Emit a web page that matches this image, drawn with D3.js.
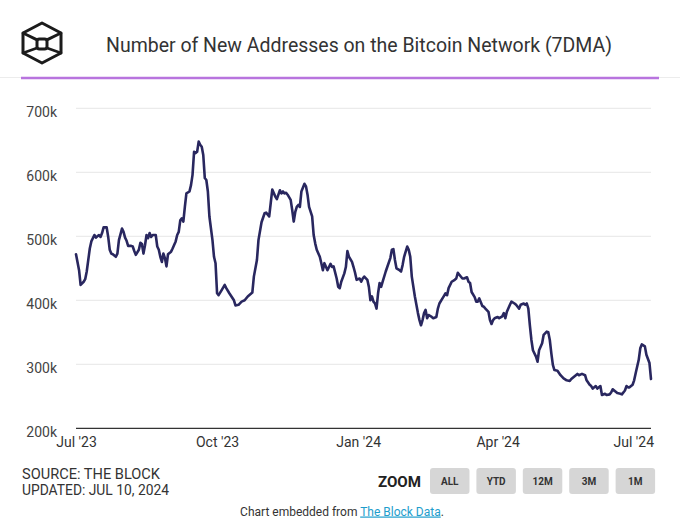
<!DOCTYPE html>
<html>
<head>
<meta charset="utf-8">
<script src="https://cdn.jsdelivr.net/npm/d3@7"></script>
<style>
  html, body { margin: 0; padding: 0; background: #fff; }
  svg { display: block; font-family: Roboto, "Noto Sans", sans-serif; }
</style>
</head>
<body>
<svg id="chart" width="680" height="532"></svg>
<script>
// ---------------- DATA ----------------
const title = "Number of New Addresses on the Bitcoin Network (7DMA)";
const startDate = "2023-07-01";           // day 0 of the series
const endDate = "2024-07-10";
// day offsets from startDate
const dayOffsets = [0,2,3,5,6,7,9,10,12,13,15,16,17,18,20,21,22,23,24,26,27,28,30,31,32,33,34,36,37,38,39,41,42,43,44,45,46,47,48,49,50,52,53,54,55,56,57,58,59,60,62,63,65,66,67,68,69,70,71,72,74,75,76,77,78,79,80,81,82,83,84,85,86,87,89,90,91,92,93,95,97,98,100,103,104,106,108,110,112,115,116,118,119,121,123,124,126,127,128,130,131,132,133,134,135,136,137,138,140,141,142,143,144,145,146,147,149,150,151,152,154,155,156,157,159,160,161,162,164,165,166,167,168,170,171,172,173,175,176,177,178,180,181,182,183,185,186,187,188,190,191,192,193,194,195,196,197,198,199,200,202,203,205,206,207,208,209,211,212,213,214,216,217,218,219,221,222,223,224,225,226,227,228,229,230,232,233,235,236,237,239,240,241,242,243,245,247,248,249,250,252,253,255,256,257,258,260,261,262,263,265,266,267,269,270,271,272,273,275,276,278,279,280,281,283,284,286,287,289,290,292,293,294,295,296,297,298,300,301,302,304,305,307,308,309,310,311,312,314,316,318,320,322,323,325,327,328,330,332,333,335,336,337,339,340,342,343,345,346,348,349,350,352,353,355,356,358,359,360,361,363,364,365,367,368,369,371,372,374,375];
// new addresses (thousands), 7-day moving average
const newAddressesK = [472,447,424,429,433,445,481,492,502,498,502,499,505,514,514,499,479,473,472,468,473,494,512,507,498,493,485,485,484,477,471,479,490,488,473,486,502,497,505,499,502,502,484,479,468,460,473,466,453,472,476,481,492,502,507,525,528,523,546,567,570,580,596,632,630,632,648,643,640,627,591,588,570,531,494,468,458,411,408,416,424,419,411,400,392,393,398,400,406,412,437,463,494,522,536,537,531,552,573,562,558,565,572,567,570,567,568,565,557,541,523,538,546,549,546,570,582,578,565,546,531,502,489,479,468,458,447,458,447,452,457,452,453,434,421,419,429,442,452,477,468,460,452,443,432,434,429,434,437,432,421,400,406,398,395,387,411,427,421,429,445,452,466,479,480,463,450,447,445,455,468,484,479,468,437,406,393,380,369,361,369,380,385,372,377,374,372,374,387,395,403,407,411,408,419,429,432,434,443,440,434,434,436,429,427,413,405,398,398,403,391,390,387,382,369,363,369,372,374,372,375,380,372,382,393,398,395,393,387,393,395,393,395,387,361,338,322,312,304,322,333,346,351,350,338,317,299,291,290,283,278,275,274,277,281,285,283,285,283,275,268,266,262,266,262,266,252,254,252,253,256,261,257,255,254,253,259,266,264,264,268,275,286,307,325,331,328,315,302,277];
const yTicks = [200000, 300000, 400000, 500000, 600000, 700000];
const xTickDates = ["2023-07-01", "2023-10-01", "2024-01-01", "2024-04-01", "2024-07-01"];
const sourceLines = ["SOURCE: THE BLOCK", "UPDATED: JUL 10, 2024"];
const zoomButtons = ["ALL", "YTD", "12M", "3M", "1M"];

// ---------------- SETUP ----------------
const svg = d3.select("#chart");
const parse = d3.timeParse("%Y-%m-%d");
const t0 = parse(startDate);
const data = dayOffsets.map((d, i) => ({
  date: d3.timeDay.offset(t0, d),
  value: newAddressesK[i] * 1000
}));

const plot = { left: 76, right: 651, top: 108.3, bottom: 428.3 };
const x = d3.scaleTime().domain([t0, parse(endDate)]).range([plot.left, plot.right]);
const y = d3.scaleLinear().domain([200000, 700000]).range([plot.bottom, plot.top]);

svg.append("rect").attr("width", 680).attr("height", 532).attr("fill", "#fff");

// ---------------- HEADER ----------------
const logo = svg.append("g").attr("fill", "none").attr("stroke", "#1b1b1b")
  .attr("stroke-width", 3).attr("stroke-linejoin", "round").attr("stroke-linecap", "round");
const cx = 42, cy = 43;
logo.append("path").attr("d",
  `M${cx},${cy-20} L${cx+19},${cy-10} L${cx+19},${cy+10} L${cx},${cy+20} L${cx-19},${cy+10} L${cx-19},${cy-10} Z`);
logo.append("path").attr("d",
  `M${cx-19},${cy-10} L${cx-5},${cy-3} M${cx+19},${cy-10} L${cx+5},${cy-3} M${cx-5},${cy+5} L${cx-19},${cy+10} M${cx+5},${cy+5} L${cx+19},${cy+10} M${cx-19},${cy-10} L${cx},${cy-1} L${cx+19},${cy-10}`)
  .attr("stroke-width", 2.6);
logo.append("rect").attr("x", cx-5).attr("y", cy-4).attr("width", 10).attr("height", 10).attr("rx", 2.5)
  .attr("fill", "#fff");

svg.append("text")
  .attr("x", 106).attr("y", 52)
  .attr("font-size", 20.5).attr("fill", "#333")
  .attr("textLength", 506).attr("lengthAdjust", "spacingAndGlyphs")
  .text(title);

svg.append("line").attr("x1", 0).attr("x2", 680).attr("y1", 77.5).attr("y2", 77.5)
  .attr("stroke", "#ececec").attr("stroke-width", 1);
svg.append("line").attr("x1", 21).attr("x2", 659).attr("y1", 78).attr("y2", 78)
  .attr("stroke", "#b874de").attr("stroke-width", 2.5);

// ---------------- GRID & AXES ----------------
svg.append("g").selectAll("line").data(yTicks.filter(v => v > 200000)).join("line")
  .attr("x1", plot.left).attr("x2", plot.right)
  .attr("y1", d => y(d)).attr("y2", d => y(d))
  .attr("stroke", "#e6e6e6").attr("stroke-width", 1);

const yAxis = svg.append("g")
  .attr("transform", `translate(${plot.left - 19},0)`)
  .call(d3.axisLeft(y).tickValues(yTicks).tickSize(0).tickPadding(0)
    .tickFormat(d => (d / 1000) + "k"));
yAxis.select(".domain").remove();
yAxis.selectAll("text").attr("font-size", 14).attr("fill", "#444")
  .attr("font-family", "Roboto, sans-serif").attr("dy", "0.6em");

svg.append("line").attr("x1", plot.left).attr("x2", plot.right)
  .attr("y1", plot.bottom).attr("y2", plot.bottom)
  .attr("stroke", "#333").attr("stroke-width", 1.2);

const fmt = d3.timeFormat("%b '%y");
const xAxis = svg.append("g")
  .attr("transform", `translate(0,${plot.bottom})`)
  .call(d3.axisBottom(x).tickValues(xTickDates.map(parse)).tickSize(0).tickPadding(0)
    .tickFormat(fmt));
xAxis.select(".domain").remove();
xAxis.selectAll("text").attr("font-size", 14).attr("fill", "#333")
  .attr("font-family", "Roboto, sans-serif").attr("dy", "1.35em");
// keep the last label inside the chart (justify)
xAxis.selectAll(".tick").each(function () {
  const txt = d3.select(this).select("text");
  const w = txt.node().getComputedTextLength();
  const tr = d3.select(this).attr("transform");
  const tx = +tr.match(/translate\(([-\d.]+)/)[1];
  const maxRight = 654;
  if (tx + w / 2 > maxRight) txt.attr("x", maxRight - w / 2 - tx);
});

// ---------------- LINE ----------------
const line = d3.line().x(d => x(d.date)).y(d => y(d.value));
svg.append("path").datum(data)
  .attr("d", line).attr("fill", "none")
  .attr("stroke", "#29275f").attr("stroke-width", 2.6)
  .attr("stroke-linejoin", "round").attr("stroke-linecap", "round");

// ---------------- FOOTER ----------------
const srcWidths = [138, 147];
sourceLines.forEach((s, i) => {
  svg.append("text").attr("x", 22).attr("y", 478.5 + i * 16.5)
    .attr("font-size", 14.5).attr("fill", "#333")
    .attr("textLength", srcWidths[i]).attr("lengthAdjust", "spacingAndGlyphs")
    .text(s);
});

svg.append("text").attr("x", 421).attr("y", 486.5).attr("text-anchor", "end")
  .attr("font-size", 14.5).attr("font-weight", "bold").attr("fill", "#222")
  .attr("textLength", 43).attr("lengthAdjust", "spacingAndGlyphs")
  .text("ZOOM");

const bx = d3.scaleBand().domain(zoomButtons).range([430, 655.1]).paddingInner(0.149).paddingOuter(0);
const btn = svg.append("g").selectAll("g").data(zoomButtons).join("g");
btn.append("rect")
  .attr("x", d => bx(d)).attr("y", 468).attr("width", bx.bandwidth()).attr("height", 26)
  .attr("rx", 3).attr("fill", "#d6d6d6");
btn.append("text")
  .attr("x", d => bx(d) + bx.bandwidth() / 2).attr("y", 485)
  .attr("text-anchor", "middle").attr("font-size", 10).attr("font-weight", "bold")
  .attr("fill", "#333").text(d => d);

const emb = svg.append("text").attr("x", 342).attr("y", 515.5)
  .attr("text-anchor", "middle")
  .attr("font-size", 12).attr("fill", "#333");
emb.append("tspan").text("Chart embedded from ");
emb.append("tspan").attr("fill", "#1e9dcc").attr("text-decoration", "underline").text("The Block Data");
emb.append("tspan").text(".");
</script>
</body>
</html>
